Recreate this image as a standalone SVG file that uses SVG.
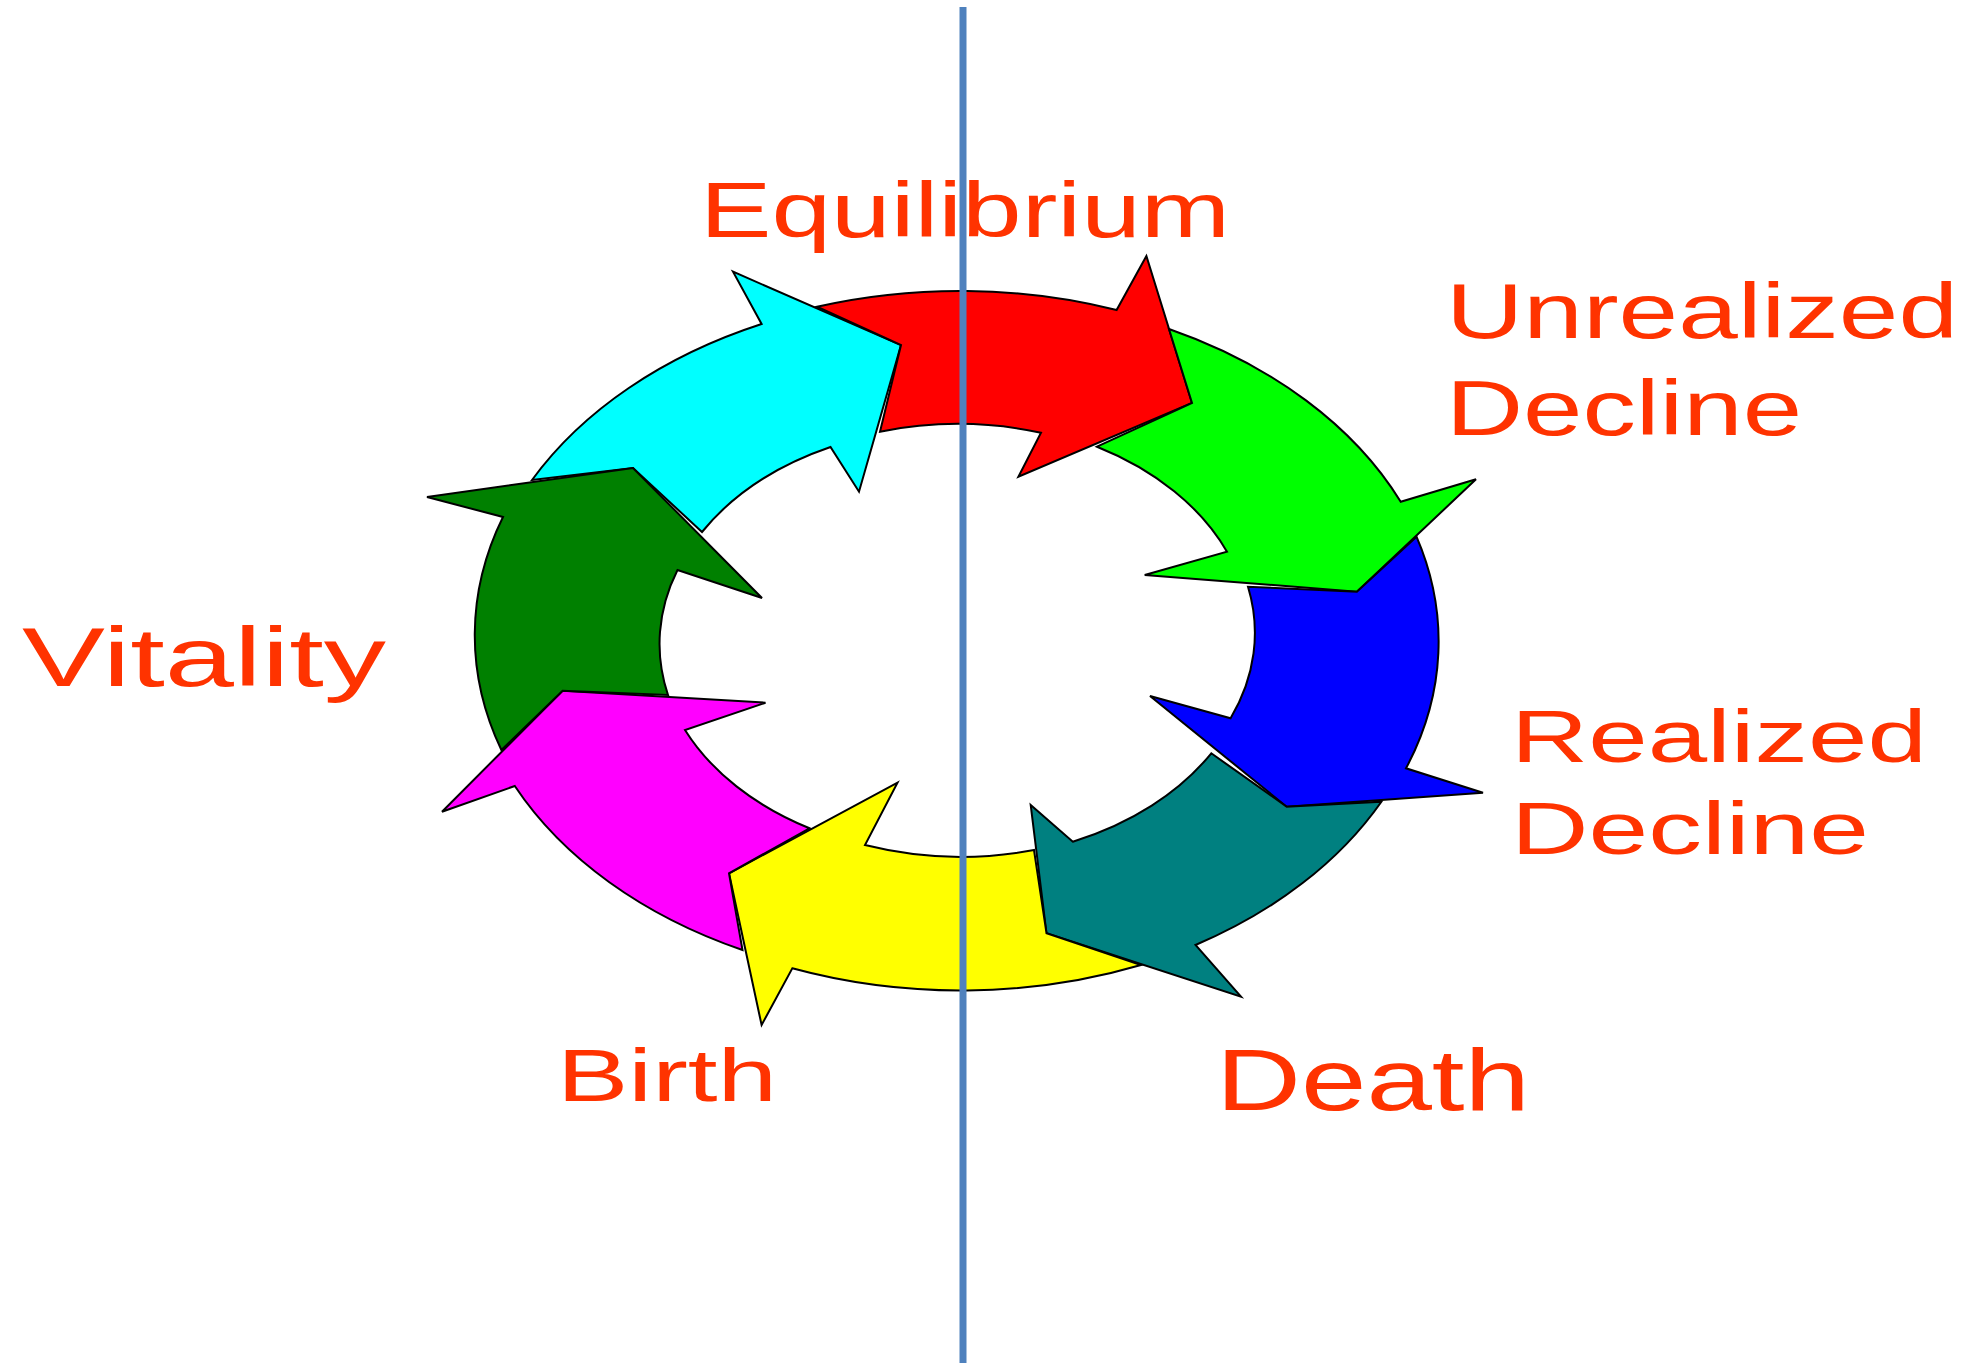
<svg xmlns="http://www.w3.org/2000/svg" width="1967" height="1363" viewBox="0 0 1967 1363">
<style>
.arrow{stroke:#000;stroke-width:2;stroke-linejoin:miter}
.lbl{font-family:"Liberation Sans",Arial,sans-serif;fill:#FF3300}
</style>
<rect width="1967" height="1363" fill="#fff"/>
<g id="cycle">
<g id="cyan-arrow"><path class="arrow" fill="#00FFFF" d="M 532 480 A 481 350 0 0 1 761.6 324 L 733 271.7 L 901 345 L 859 491.7 L 830.5 447 A 295 215 0 0 0 702 532 L 633 468 Z"/></g>
<g id="red-arrow"><path class="arrow" fill="#FF0000" d="M 817 306.7 A 481 350 0 0 1 1116.6 310 L 1146.4 256 L 1192 403 L 1018.4 476.7 L 1041 432.7 A 295 215 0 0 0 880 431.7 L 901 345 Z"/></g>
<g id="green-arrow"><path class="arrow" fill="#00FF00" d="M 1169 329 A 481 350 0 0 1 1400.7 501.7 L 1476 479.3 L 1356.9 591.7 L 1144.7 575 L 1227 551.7 A 295 215 0 0 0 1097 446.7 L 1192 403 Z"/></g>
<g id="blue-arrow"><path class="arrow" fill="#0000FF" d="M 1416.5 536.7 A 481 350 0 0 1 1406 768.3 L 1483 792.7 L 1286.7 806.7 L 1150 696 L 1230.6 718.3 A 295 215 0 0 0 1248 586.7 L 1356.9 591.7 Z"/></g>
<g id="teal-arrow"><path class="arrow" fill="#008080" d="M 1381.4 801.7 A 481 350 0 0 1 1195.5 945 L 1241 996.7 L 1046.5 933.3 L 1030.7 805 L 1072.8 841.7 A 295 215 0 0 0 1211.3 753.3 L 1286.7 806.7 Z"/></g>
<g id="yellow-arrow"><path class="arrow" fill="#FFFF00" d="M 1141 965 A 481 350 0 0 1 792.3 968.3 L 761.6 1025 L 729 873.3 L 897.5 782.7 L 865 845 A 295 215 0 0 0 1034 850 L 1046.5 933.3 Z"/></g>
<g id="magenta-arrow"><path class="arrow" fill="#FF00FF" d="M 742.5 950 A 481 350 0 0 1 514.8 786 L 442 811.7 L 562.6 690.7 L 765.5 702.7 L 685 730 A 295 215 0 0 0 809.5 828.3 L 729 873.3 Z"/></g>
<g id="darkgreen-arrow"><path class="arrow" fill="#008000" d="M 501.4 750 A 481 350 0 0 1 503 517 L 427 497 L 633 468 L 762 598 L 677.5 570 A 295 215 0 0 0 668 695 L 562.6 690.7 Z"/></g>
</g>
<g id="labels">
<text id="equilibrium" class="lbl" x="700" y="237" font-size="77" textLength="530" lengthAdjust="spacingAndGlyphs">Equilibrium</text>
<text id="unrealized" class="lbl" x="1446" y="338" font-size="77" textLength="512" lengthAdjust="spacingAndGlyphs">Unrealized</text>
<text id="unrealized-decline" class="lbl" x="1446" y="435" font-size="77" textLength="356" lengthAdjust="spacingAndGlyphs">Decline</text>
<text id="vitality" class="lbl" x="22" y="686" font-size="84" textLength="364" lengthAdjust="spacingAndGlyphs">Vitality</text>
<text id="realized" class="lbl" x="1511" y="762" font-size="74" textLength="416" lengthAdjust="spacingAndGlyphs">Realized</text>
<text id="realized-decline" class="lbl" x="1511" y="854" font-size="74" textLength="358" lengthAdjust="spacingAndGlyphs">Decline</text>
<text id="birth" class="lbl" x="557" y="1101" font-size="75" textLength="220" lengthAdjust="spacingAndGlyphs">Birth</text>
<text id="death" class="lbl" x="1216" y="1110" font-size="88" textLength="314" lengthAdjust="spacingAndGlyphs">Death</text>
</g>
<g id="connectors">
<line x1="963" y1="7" x2="963" y2="1363" stroke="#4F81BD" stroke-width="7"/>
</g>
</svg>
